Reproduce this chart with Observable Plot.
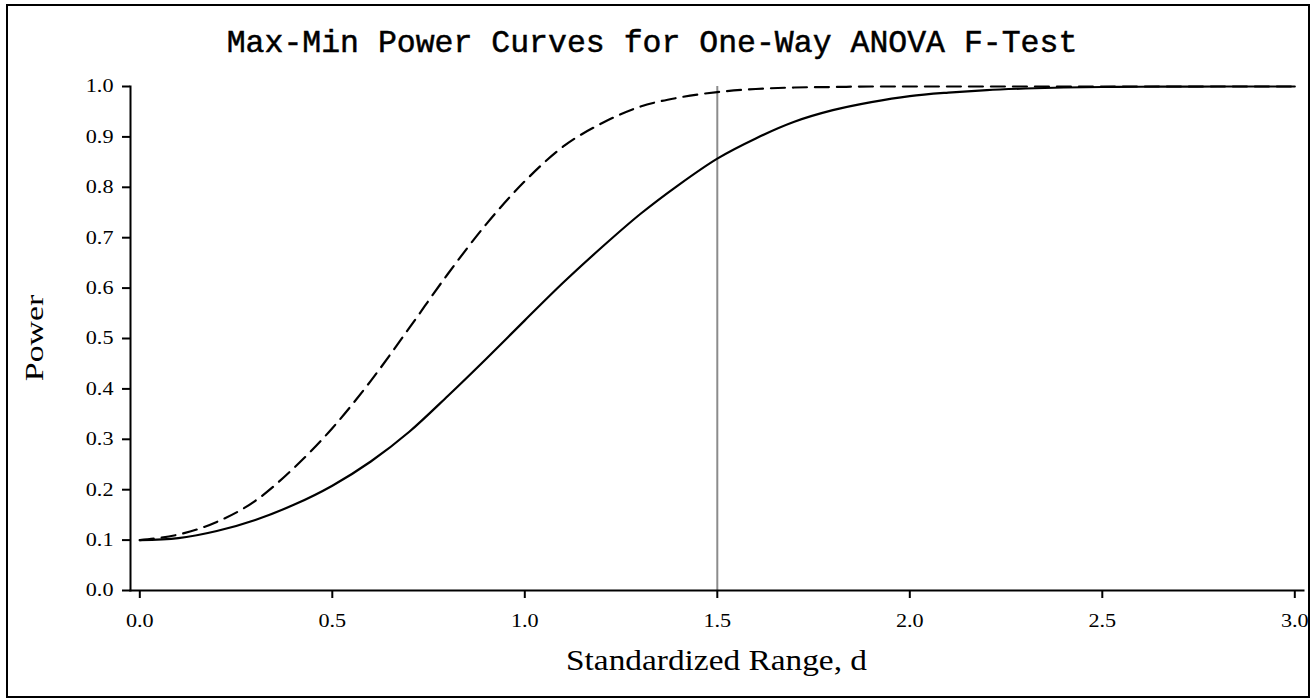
<!DOCTYPE html>
<html>
<head>
<meta charset="utf-8">
<script src="https://cdn.jsdelivr.net/npm/d3@7"></script>
<script src="https://cdn.jsdelivr.net/npm/@observablehq/plot@0.6"></script>
<style>
  html, body { margin: 0; padding: 0; background: #fff; }
  #chart svg { display: block; }
</style>
</head>
<body>
<div id="chart"></div>
<script>
// ---- data ----
const titleText = "Max-Min Power Curves for One-Way ANOVA F-Test";
const xLabel = "Standardized Range, d";
const yLabel = "Power";
const xTicks = [0, 0.5, 1, 1.5, 2, 2.5, 3];
const yTicks = [0, 0.1, 0.2, 0.3, 0.4, 0.5, 0.6, 0.7, 0.8, 0.9, 1.0];
const refLine = [1.5];

const dValues = [0.0, 0.1, 0.2, 0.3, 0.4, 0.5, 0.6, 0.7, 0.8, 0.9, 1.0,
                 1.1, 1.2, 1.3, 1.4, 1.5, 1.6, 1.7, 1.8, 1.9, 2.0,
                 2.1, 2.2, 2.3, 2.4, 2.5, 2.6, 2.7, 2.8, 2.9, 3.0];
// solid curve (min power)
const minPower = [0.100, 0.104, 0.118, 0.140, 0.170, 0.208, 0.256, 0.315, 0.386, 0.460, 0.536,
                  0.611, 0.681, 0.747, 0.805, 0.857, 0.897, 0.930, 0.953, 0.969, 0.981,
                  0.988, 0.993, 0.996, 0.998, 0.999, 0.9995, 0.9998, 1.000, 1.000, 1.000];
// dashed curve (max power)
const maxPower = [0.100, 0.111, 0.136, 0.178, 0.243, 0.322, 0.416, 0.521, 0.628, 0.727, 0.812,
                  0.881, 0.927, 0.960, 0.978, 0.989, 0.995, 0.998, 0.999, 1.000, 1.000,
                  1.000, 1.000, 1.000, 1.000, 1.000, 1.000, 1.000, 1.000, 1.000, 1.000];

const minData = dValues.map((d, i) => ({d, p: minPower[i]}));
const maxData = dValues.map((d, i) => ({d, p: maxPower[i]}));

const W = 1312, H = 700;

const chart = Plot.plot({
  width: W,
  height: H,
  marginLeft: 130,
  marginRight: 9,
  marginTop: 86,
  marginBottom: 110,
  style: {fontFamily: "'Liberation Serif', 'Times New Roman', serif", color: "#000", background: "#fff"},
  x: {domain: [0, 3], insetLeft: 9.3, insetRight: 8.7},
  y: {domain: [0, 1]},
  marks: [
    Plot.ruleX(refLine, {stroke: "#8c8c8c", strokeWidth: 2}),
    Plot.line(minData, {x: "d", y: "p", stroke: "#000", strokeWidth: 2.2, curve: "monotone-x"}),
    Plot.line(maxData, {x: "d", y: "p", stroke: "#000", strokeWidth: 2.2, strokeDasharray: "14,8", curve: "monotone-x"}),
    Plot.frame({anchor: "left", stroke: "#000", strokeWidth: 2}),
    Plot.frame({anchor: "bottom", stroke: "#000", strokeWidth: 2}),
    Plot.axisX({ticks: xTicks, tickFormat: d3.format(".1f"), tickSize: 8, tickPadding: 15,
                fontSize: 18.5, strokeWidth: 2, label: null}),
    Plot.axisY({ticks: yTicks, tickFormat: d3.format(".1f"), tickSize: 8, tickPadding: 9,
                fontSize: 18.5, strokeWidth: 2, label: null})
  ]
});

document.getElementById("chart").appendChild(chart);

const svg = d3.select(chart);

// stretch tick labels horizontally to match the reference's wide serif digits
svg.selectAll('g[aria-label="x-axis tick label"] text, g[aria-label="y-axis tick label"] text')
  .attr("transform", function() {
    const t = this.getAttribute("transform") || "";
    return t + " scale(1.2,1)";
  });

// outer border
svg.append("rect")
  .attr("x", 7).attr("y", 5)
  .attr("width", 1302).attr("height", 692)
  .attr("fill", "none").attr("stroke", "#000").attr("stroke-width", 2);

// title
svg.append("text")
  .attr("x", 652).attr("y", 52)
  .attr("text-anchor", "middle")
  .attr("font-family", "'Liberation Mono', 'Courier New', monospace")
  .attr("font-size", 31.5)
  .attr("fill", "#000")
  .attr("stroke", "#000").attr("stroke-width", 0.5)
  .text(titleText);

// x axis label
svg.append("text")
  .attr("transform", "translate(716.5,670) scale(1.15,1)")
  .attr("text-anchor", "middle")
  .attr("font-family", "'Liberation Serif', 'Times New Roman', serif")
  .attr("font-size", 29)
  .attr("fill", "#000")
  .text(xLabel);

// y axis label
svg.append("text")
  .attr("transform", "translate(43,338) rotate(-90) scale(1.3,1)")
  .attr("text-anchor", "middle")
  .attr("font-family", "'Liberation Serif', 'Times New Roman', serif")
  .attr("font-size", 26)
  .attr("fill", "#000")
  .text(yLabel);
</script>
</body>
</html>
